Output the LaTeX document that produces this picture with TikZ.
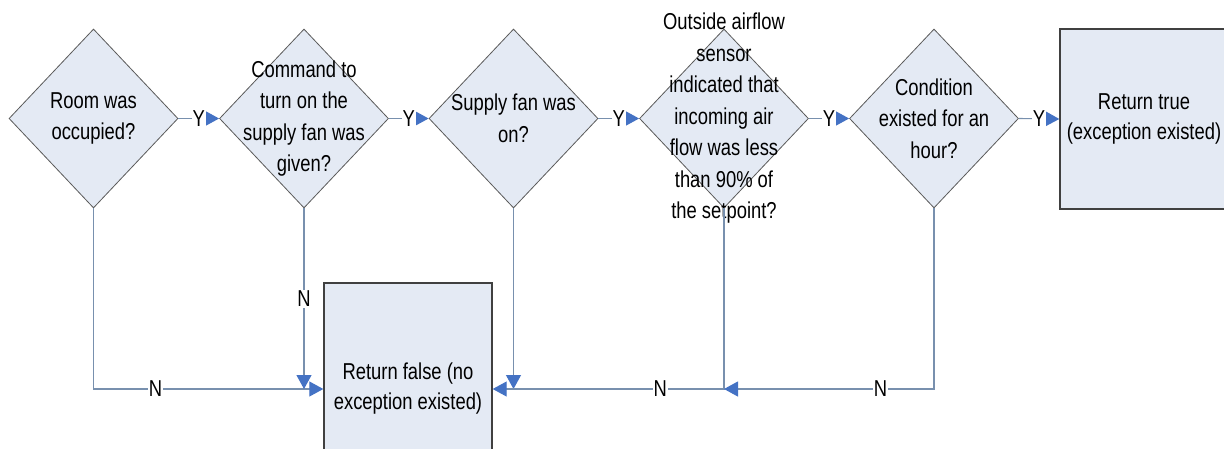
\documentclass[tikz,border=0pt]{standalone}
\usepackage{fontspec}
\setmainfont[FakeStretch=0.8]{Liberation Sans}
\usetikzlibrary{shapes.geometric,arrows.meta}
\definecolor{shapefill}{HTML}{E4EAF4}
\definecolor{linecol}{HTML}{7890AE}
\definecolor{arrowblue}{HTML}{4472C4}
\definecolor{dborder}{HTML}{5A5A5A}
\definecolor{bborder}{HTML}{404040}
\begin{document}
\begin{tikzpicture}[x=1pt,y=-1pt,
  dia/.style={diamond, draw=dborder, line width=0.8pt, fill=shapefill,
    minimum width=169pt, minimum height=179pt, inner sep=0pt},
  txt/.style={align=center, inner sep=0pt, font=\fontsize{23}{31.5}\selectfont},
  endbox/.style={rectangle, draw=bborder, line width=1.4pt, fill=shapefill,
    minimum width=168pt, inner sep=0pt, align=center,
    font=\fontsize{23}{30}\selectfont},
  conn/.style={draw=linecol, line width=1.1pt,
    -{Triangle[length=14pt,width=15pt,color=arrowblue,fill=arrowblue]}},
  lab/.style={fill=white, inner sep=1pt, font=\fontsize{23}{24}\selectfont}
]
\useasboundingbox (0,0) rectangle (1224,448);
\fill[white] (0,0) rectangle (1224,448);

% decisions
\node[dia] (d1) at (93.5,118.5) {};
\node[txt] (t1) at (d1.center) {Room was\\occupied?};
\node[dia] (d2) at (304,118.5) {};
\node[txt] (t2) at (d2.center) {Command to\\turn on the\\supply fan was\\given?};
\node[dia] (d3) at (513.5,118.5) {};
\node[txt] (t3) at (d3.center) {Supply fan was\\on?};
\node[dia] (d4) at (724,118.5) {};
\node[txt] (t4) at (d4.center) {Outside airflow\\sensor\\indicated that\\incoming air\\flow was less\\than 90\% of\\the setpoint?};
\node[dia] (d5) at (934,118.5) {};
\node[txt] (t5) at (d5.center) {Condition\\existed for an\\hour?};

% results
\node[endbox, minimum height=180pt] (rt) at (1144,119) {Return true\\(exception existed)};
\node[endbox, minimum height=212pt] (rf) at (408,389) {Return false (no\\exception existed)};

% yes branches
\draw[conn] (d1.east) -- node[lab]{Y} (d2.west);
\draw[conn] (d2.east) -- node[lab]{Y} (d3.west);
\draw[conn] (d3.east) -- node[lab]{Y} (d4.west);
\draw[conn] (d4.east) -- node[lab]{Y} (d5.west);
\draw[conn] (d5.east) -- node[lab]{Y} (rt.west);

% join points on the lower line
\coordinate (j2) at (d2.south |- rf.west);
\coordinate (j3) at (d3.south |- rf.west);
\coordinate (j4) at (d4.south |- rf.west);
\coordinate (c1) at (d1.south |- rf.west);
\coordinate (c5) at (d5.south |- rf.west);

% no branches
\draw[conn] (d1.south) -- (c1) -- node[lab, pos=0.27]{N} (rf.west);
\draw[conn] (d2.south) -- node[lab, pos=0.5]{N} (j2);
\draw[conn] (d3.south) -- (j3);
\draw[conn] (d4.south) -- (j4) -- node[lab, pos=0.276]{N} (rf.east);
\draw[conn] (d5.south) -- (c5) -- node[lab, pos=0.255]{N} (j4);
\end{tikzpicture}
\end{document}
